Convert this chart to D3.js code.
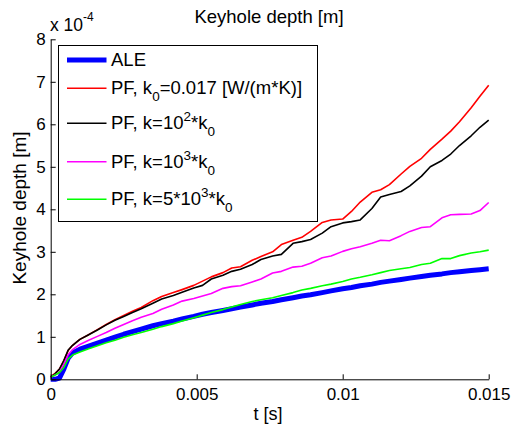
<!DOCTYPE html>
<html>
<head>
<meta charset="utf-8">
<script src="https://cdn.jsdelivr.net/npm/d3@7"></script>
<style>
html,body{margin:0;padding:0;background:#fff;}
svg{display:block;font-family:"Liberation Sans",Arial,sans-serif;}
</style>
</head>
<body>
<svg id="chart" width="515" height="426"></svg>
<script>
// time samples [s]
const time = [0, 0.00015, 0.0003, 0.00045, 0.0006, 0.00075, 0.001, 0.0013, 0.0016, 0.0019,
  0.0022, 0.0025, 0.0028, 0.0031, 0.0035, 0.0038, 0.0042, 0.0045, 0.0049, 0.0052,
  0.0055, 0.0059, 0.0062, 0.0065, 0.0069, 0.0072, 0.0076, 0.0079, 0.0083, 0.0086,
  0.0089, 0.0093, 0.0096, 0.0100, 0.0103, 0.0106, 0.0110, 0.0113, 0.0116, 0.0120,
  0.0123, 0.0127, 0.0130, 0.0134, 0.0137, 0.0140, 0.0144, 0.0147, 0.0150];

// keyhole depth in units of 1e-4 m
const ale = [0.0, 0.0, 0.03, 0.24, 0.50, 0.62, 0.71, 0.78, 0.85, 0.92,
  0.99, 1.06, 1.12, 1.18, 1.26, 1.31, 1.37, 1.42, 1.48, 1.53,
  1.57, 1.62, 1.66, 1.70, 1.75, 1.79, 1.83, 1.87, 1.92, 1.96,
  1.99, 2.04, 2.08, 2.13, 2.16, 2.20, 2.24, 2.28, 2.31, 2.35,
  2.38, 2.42, 2.45, 2.48, 2.51, 2.53, 2.56, 2.58, 2.60];
const pfK0 = [0.06, 0.14, 0.24, 0.44, 0.68, 0.80, 0.94, 1.05, 1.17, 1.29,
  1.40, 1.50, 1.60, 1.69, 1.85, 1.95, 2.04, 2.11, 2.21, 2.31,
  2.41, 2.51, 2.62, 2.65, 2.80, 2.89, 3.00, 3.17, 3.27, 3.34,
  3.48, 3.69, 3.75, 3.77, 3.95, 4.17, 4.40, 4.46, 4.58, 4.83,
  5.01, 5.20, 5.41, 5.65, 5.84, 6.06, 6.39, 6.66, 6.92];
const pfK100 = [0.05, 0.13, 0.24, 0.44, 0.69, 0.80, 0.94, 1.05, 1.16, 1.28,
  1.39, 1.48, 1.57, 1.66, 1.79, 1.89, 1.97, 2.05, 2.15, 2.21,
  2.36, 2.45, 2.54, 2.59, 2.70, 2.82, 2.90, 2.94, 3.20, 3.24,
  3.29, 3.44, 3.59, 3.68, 3.71, 3.75, 4.02, 4.29, 4.35, 4.42,
  4.55, 4.78, 5.00, 5.15, 5.30, 5.50, 5.73, 5.93, 6.10];
const pfK1000 = [0.05, 0.10, 0.17, 0.35, 0.58, 0.70, 0.82, 0.92, 1.01, 1.10,
  1.20, 1.29, 1.38, 1.46, 1.55, 1.65, 1.75, 1.84, 1.90, 1.96,
  2.02, 2.14, 2.18, 2.20, 2.29, 2.36, 2.50, 2.54, 2.64, 2.66,
  2.73, 2.86, 2.90, 3.01, 3.07, 3.12, 3.20, 3.27, 3.26, 3.38,
  3.48, 3.57, 3.59, 3.80, 3.87, 3.88, 3.89, 3.97, 4.16];
const pfK5000 = [0.05, 0.10, 0.16, 0.28, 0.48, 0.57, 0.64, 0.72, 0.79, 0.86,
  0.92, 0.99, 1.05, 1.10, 1.18, 1.24, 1.31, 1.37, 1.45, 1.51,
  1.57, 1.64, 1.70, 1.76, 1.83, 1.87, 1.92, 1.97, 2.04, 2.10,
  2.14, 2.20, 2.24, 2.30, 2.36, 2.40, 2.46, 2.51, 2.56, 2.60,
  2.63, 2.70, 2.73, 2.84, 2.84, 2.91, 2.97, 3.00, 3.04];

const xTicks = [0, 0.005, 0.01, 0.015];
const xTickLabels = ["0", "0.005", "0.01", "0.015"];
const yTicks = [0, 1, 2, 3, 4, 5, 6, 7, 8];

const seriesColors = ["#0000ff", "#ff0000", "#000000", "#ff00ff", "#00ff00"];
const seriesWidths = [5, 1.6, 1.6, 1.6, 1.6];
const seriesValues = [ale, pfK0, pfK100, pfK1000, pfK5000];

const svg = d3.select("#chart");
const pLeft = 50.7, pRight = 488.7, pTop = 39.3, pBottom = 379.3;
const x = d3.scaleLinear().domain([0, 0.015]).range([pLeft, pRight]);
const y = d3.scaleLinear().domain([0, 8]).range([pBottom, pTop]);

// lines
const line = d3.line().x(d => x(d[0])).y(d => y(d[1]));
seriesValues.forEach((vals, i) => {
  const pts = time.map((t, j) => [t, vals[j]]);
  svg.append("path").datum(pts)
    .attr("fill", "none")
    .attr("stroke", seriesColors[i])
    .attr("stroke-width", seriesWidths[i])
    .attr("stroke-linejoin", "round")
    .attr("d", line);
});

// axes
const xAxis = d3.axisBottom(x).tickValues(xTicks)
  .tickFormat((d, i) => xTickLabels[i]).tickSizeInner(-5).tickSizeOuter(0).tickPadding(9);
const gx = svg.append("g").attr("transform", `translate(0,${pBottom})`).call(xAxis);
const yAxis = d3.axisLeft(y).tickValues(yTicks)
  .tickFormat(d3.format("d")).tickSizeInner(-5).tickSizeOuter(0).tickPadding(5);
const gy = svg.append("g").attr("transform", `translate(${pLeft},0)`).call(yAxis);
[gx, gy].forEach(g => {
  g.selectAll("path,line").attr("stroke", "#000").attr("stroke-width", 1);
  g.selectAll("text").attr("fill", "#000").style("font-size", "17px")
    .style("font-family", '"Liberation Sans",Arial,sans-serif');
});

// exponent label
const ex = svg.append("text").attr("x", 50).attr("y", 31).attr("font-size", 17.5).attr("fill", "#000");
ex.append("tspan").text("x 10");
ex.append("tspan").attr("font-size", 12).attr("dy", -10).text("-4");

// title and axis labels
svg.append("text").attr("x", 269).attr("y", 23).attr("text-anchor", "middle")
  .attr("font-size", 18.5).attr("fill", "#000").text("Keyhole depth [m]");
svg.append("text").attr("x", 268).attr("y", 420).attr("text-anchor", "middle")
  .attr("font-size", 18).attr("fill", "#000").text("t [s]");
svg.append("text").attr("transform", "translate(26,208) rotate(-90)").attr("text-anchor", "middle")
  .attr("font-size", 19).attr("fill", "#000").text("Keyhole depth [m]");

// legend
const lg = svg.append("g");
lg.append("rect").attr("x", 58.5).attr("y", 45.5).attr("width", 259).attr("height", 176)
  .attr("fill", "#fff").attr("stroke", "#000").attr("stroke-width", 1);
const legendRows = [
  [["ALE", 0]],
  [["PF, k", 0], ["0", 1], ["=0.017 [W/(m*K)]", 0]],
  [["PF, k=10", 0], ["2", -1], ["*k", 0], ["0", 1]],
  [["PF, k=10", 0], ["3", -1], ["*k", 0], ["0", 1]],
  [["PF, k=5*10", 0], ["3", -1], ["*k", 0], ["0", 1]]
];
const rowY = [60, 88.3, 123.3, 161.7, 199.3];
legendRows.forEach((parts, i) => {
  lg.append("line").attr("x1", 67).attr("x2", 106.5).attr("y1", rowY[i]).attr("y2", rowY[i])
    .attr("stroke", seriesColors[i]).attr("stroke-width", seriesWidths[i]);
  const t = lg.append("text").attr("x", 111).attr("y", rowY[i] + 6)
    .attr("font-size", 18.5).attr("fill", "#000");
  let shift = 0;
  parts.forEach(([s, k]) => {
    const target = k === 1 ? 7 : (k === -1 ? -8 : 0);
    t.append("tspan").attr("dy", target - shift).attr("font-size", k === 0 ? 18.5 : 13.5).text(s);
    shift = target;
  });
});
</script>
</body>
</html>
